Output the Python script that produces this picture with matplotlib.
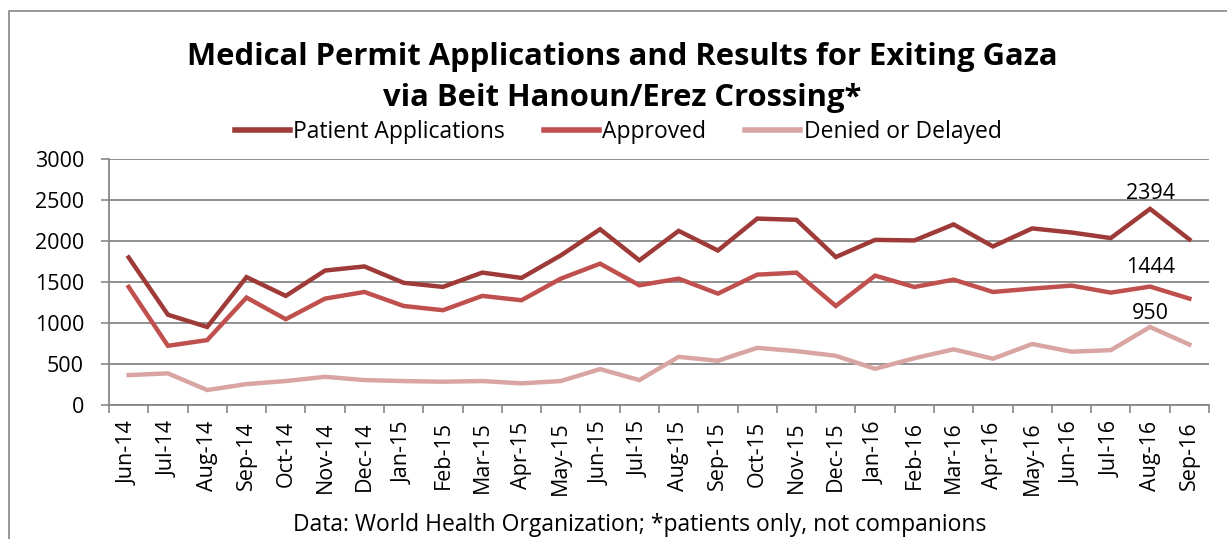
import matplotlib
matplotlib.use("Agg")
import matplotlib.pyplot as plt
from matplotlib.lines import Line2D
from matplotlib.patches import Rectangle

months = ["Jun-14", "Jul-14", "Aug-14", "Sep-14", "Oct-14", "Nov-14", "Dec-14",
          "Jan-15", "Feb-15", "Mar-15", "Apr-15", "May-15", "Jun-15", "Jul-15",
          "Aug-15", "Sep-15", "Oct-15", "Nov-15", "Dec-15", "Jan-16", "Feb-16",
          "Mar-16", "Apr-16", "May-16", "Jun-16", "Jul-16", "Aug-16", "Sep-16"]
applications = [1800, 1100, 950, 1560, 1330, 1640, 1690, 1490, 1440, 1615, 1550,
                1825, 2145, 1765, 2125, 1885, 2275, 2260, 1805, 2015, 2008, 2204,
                1935, 2155, 2105, 2037, 2394, 2021]
approved = [1440, 720, 790, 1310, 1045, 1297, 1378, 1207, 1155, 1330, 1277,
            1541, 1724, 1460, 1541, 1358, 1590, 1614, 1207, 1578, 1439, 1529,
            1378, 1419, 1456, 1370, 1444, 1297]
denied = [362, 383, 179, 252, 289, 341, 301, 289, 281, 289, 261,
          289, 435, 301, 585, 537, 695, 655, 598, 439, 568, 677,
          562, 742, 648, 667, 950, 735]
series_names = ["Patient Applications", "Approved", "Denied or Delayed"]
colors = ["#9E3B39", "#C0504D", "#D9A5A3"]
yticks = [0, 500, 1000, 1500, 2000, 2500, 3000]

FONT = "Open Sans"
plt.rcParams["font.family"] = [FONT, "DejaVu Sans"]
FS = 15.5

W, H = 1227, 539
fig = plt.figure(figsize=(W / 100, H / 100), dpi=100)

# outer border
fig.patches.append(Rectangle((9 / W, -0.1), 1.2, 1 - 11 / H + 0.1, transform=fig.transFigure,
                             fill=False, edgecolor="#878787", linewidth=1.2))

left, right, top, bottom = 109, 1209, 159.3, 404.7
ax = fig.add_axes([left / W, 1 - bottom / H, (right - left) / W, (bottom - top) / H])

x = list(range(len(months)))
for vals, c, name in zip([applications, approved, denied], colors, series_names):
    ax.plot(x, vals, color=c, linewidth=3.2, label=name, solid_joinstyle="miter")

ax.set_xlim(-0.5, len(months) - 0.5)
ax.set_ylim(0, 3000)
ax.set_yticks(yticks)
ax.set_yticklabels([str(v) for v in yticks], fontsize=FS)
ax.set_xticks(x)
ax.set_xticklabels(months, rotation=90, fontsize=FS, va="top")
ax.set_xticks([i - 0.5 for i in range(len(months) + 1)], minor=True)
ax.tick_params(axis="x", which="major", length=0, pad=12)
ax.tick_params(axis="x", which="minor", length=6, width=1.2, color="#878787")
ax.tick_params(axis="y", which="major", length=6, width=1.2, color="#878787", pad=12)

ax.grid(axis="y", color="#878787", linewidth=1.3)
ax.set_axisbelow(True)
for s in ["top", "right"]:
    ax.spines[s].set_visible(False)
for s in ["left", "bottom"]:
    ax.spines[s].set_color("#878787")
    ax.spines[s].set_linewidth(1.3)

# data labels at Aug-16
idx = months.index("Aug-16")
for vals, off in zip([applications, approved, denied], [11, 14, 10]):
    ax.annotate(str(vals[idx]), (idx, vals[idx]), xytext=(0, off), textcoords="offset points",
                ha="center", va="center", fontsize=FS)

fig.text(622 / W, 1 - 57 / H, "Medical Permit Applications and Results for Exiting Gaza",
         ha="center", va="center", fontsize=22.3, fontweight="bold")
fig.text(622 / W, 1 - 98 / H, "via Beit Hanoun/Erez Crossing*",
         ha="center", va="center", fontsize=22.3, fontweight="bold")

handles = [Line2D([], [], color=c, linewidth=4) for c in colors]
fig.legend(handles, series_names, loc="center", bbox_to_anchor=(618 / W, 1 - 132 / H),
           ncol=3, frameon=False, fontsize=16.5, handlelength=2.4, handletextpad=0.15,
           columnspacing=1.7, borderpad=0, borderaxespad=0)

fig.text(640 / W, 1 - 525 / H, "Data: World Health Organization; *patients only, not companions",
         ha="center", va="center", fontsize=16.5)

fig.savefig("out.png", dpi=100, facecolor="white")
